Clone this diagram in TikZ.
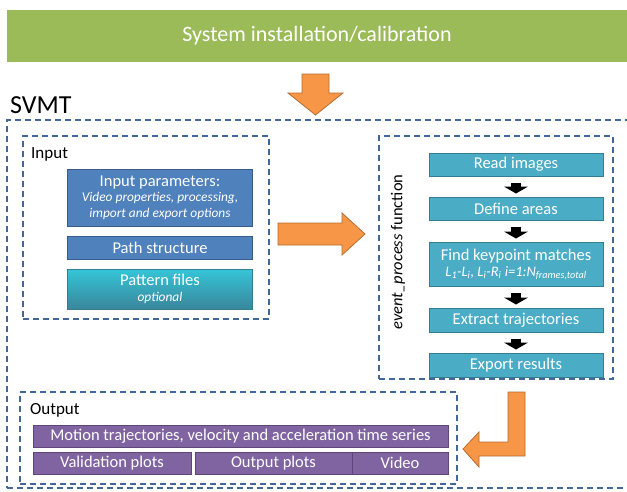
\documentclass[tikz,border=0pt]{standalone}
\usepackage{fontspec}
\setmainfont{Carlito}
\usetikzlibrary{arrows.meta,positioning}
\definecolor{grnbar}{HTML}{9BBB59}
\definecolor{dashblue}{HTML}{44679A}
\definecolor{bluefill}{HTML}{4F81BD}
\definecolor{blueline}{HTML}{385D8A}
\definecolor{tealfill}{HTML}{4BACC6}
\definecolor{tealline}{HTML}{357D91}
\definecolor{purpfill}{HTML}{8064A2}
\definecolor{purpline}{HTML}{5C4776}
\definecolor{orgfill}{HTML}{F79646}
\definecolor{orgline}{HTML}{B66D31}

\begin{document}
\begin{tikzpicture}[x=1pt,y=-1pt,>=Latex,
  frame/.style={draw=dashblue,dash pattern=on 6pt off 4pt,line width=1.4pt,inner sep=0pt},
  bluebox/.style={draw=blueline,fill=bluefill,line width=1pt,text=white,minimum width=185pt,align=center,font=\fontsize{16.5}{17}\selectfont,inner sep=1pt},
  tealbox/.style={draw=tealline,fill=tealfill,line width=1pt,text=white,minimum width=174pt,align=center,font=\fontsize{16.5}{17}\selectfont,inner sep=1pt},
  purpbox/.style={draw=purpline,fill=purpfill,line width=1pt,text=white,minimum height=22pt,align=center,font=\fontsize{16.5}{17}\selectfont,inner sep=1pt},
  blkarrow/.style={line width=10pt,-{Triangle[width=24pt,length=7pt]},shorten <=6pt,shorten >=3pt},
  bigarrow/.style={draw=orgline,fill=orgfill,line width=0.8pt,line join=miter},
  tag/.style={anchor=base west,font=\fontsize{17}{18}\selectfont,inner sep=0pt}]
\clip (0,0) rectangle (627,491);
% top bar
\node[fill=grnbar,minimum width=620pt,minimum height=52pt,text=white,font=\fontsize{22}{24}\selectfont] (setup) at (317,36) {System installation/calibration};
\node[anchor=base west,font=\fontsize{26}{28}\selectfont,inner sep=0pt] (svmt_lbl) at (10,113) {SVMT};
\node[frame,minimum width=633pt,minimum height=368pt] (svmt) at (323.5,304) {};
% input
\node[frame,minimum width=246pt,minimum height=183pt] (in_frame) at (146,227.5) {};
\node[tag] (in_lbl) at (31,158) {Input};
\node[bluebox,minimum height=57pt] (in_par) at (160,197.5) {Input parameters:\\[-2pt]{\fontsize{13.4}{15.5}\selectfont\itshape Video properties, processing,}\\[-1pt]{\fontsize{13.4}{15.5}\selectfont\itshape import and export options}};
\node[bluebox,minimum height=23pt] (in_path) at (160,247.5) {Path structure};
\node[bluebox,draw=tealline,top color=tealfill!70!cyan,bottom color=tealline!80!tealfill,minimum height=40pt] (in_pat) at (160,289) {Pattern files\\[-1pt]{\fontsize{13.4}{15}\selectfont\itshape optional}};
% event_process
\node[frame,minimum width=234pt,minimum height=243pt] (ev_frame) at (496,257.5) {};
\node[rotate=90,font=\fontsize{16.5}{17}\selectfont] (ev_lbl) at (398,252) {\textit{event\_process} function};
\node[tealbox,minimum height=23pt] (ev_read) at (516,164.5) {Read images};
\node[tealbox,minimum height=23pt] (ev_area) at (516,208.5) {Define areas};
\node[tealbox,minimum height=44pt] (ev_find) at (516,264) {Find keypoint matches\\[-1pt]{\fontsize{14.5}{15}\selectfont\itshape L\textsubscript{1}-L\textsubscript{i}, L\textsubscript{i}-R\textsubscript{i} i=1:N\textsubscript{frames,total}}};
\node[tealbox,minimum height=24pt] (ev_traj) at (516,320) {Extract trajectories};
\node[tealbox,minimum height=24pt] (ev_exp) at (516,365) {Export results};
\draw[blkarrow] (ev_read.south) -- (ev_area.north);
\draw[blkarrow] (ev_area.south) -- (ev_find.north);
\draw[blkarrow] (ev_find.south) -- (ev_traj.north);
\draw[blkarrow] (ev_traj.south) -- (ev_exp.north);
% output
\node[frame,minimum width=437pt,minimum height=92pt] (out_frame) at (238.5,438) {};
\node[tag] (out_lbl) at (30,414) {Output};
\node[purpbox,minimum width=415pt] (out_mot) at (240.5,436) {Motion trajectories, velocity and acceleration time series};
\node[purpbox,minimum width=158pt] (out_val) at (112,463) {Validation plots};
\node[purpbox,minimum width=157pt] (out_plt) at (273.5,463) {Output plots};
\node[purpbox,minimum width=96pt] (out_vid) at (400,463) {Video};
% block arrows
\draw[bigarrow] (302,74) -- (329,74) -- (329,93) -- (343,93) -- (315.5,115) -- (288,93) -- (302,93) -- cycle;
\draw[bigarrow] (278,223) -- (342,223) -- (342,213) -- (365,234) -- (342,255) -- (342,245) -- (278,245) -- cycle;
\draw[bigarrow] (508,392) -- (525,392) -- (525,456) -- (479,456) -- (479,467) -- (463,449) -- (479,432) -- (479,442) -- (508,442) -- cycle;
\end{tikzpicture}
\end{document}
